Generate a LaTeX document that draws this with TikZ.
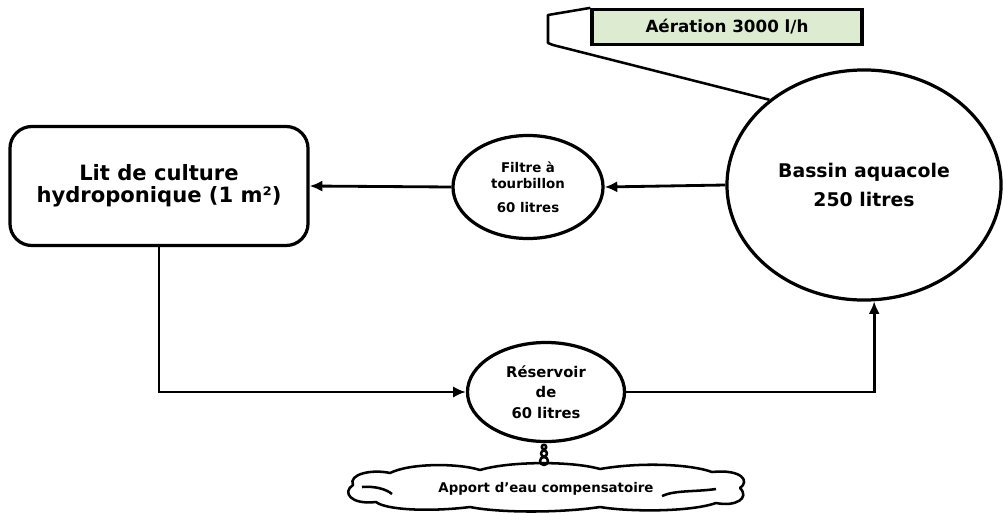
\documentclass[tikz,border=0pt]{standalone}
\usepackage{fontspec}
\setmainfont{DejaVu Sans}
\usetikzlibrary{arrows.meta,shapes.geometric}
\definecolor{aerfill}{RGB}{221,235,208}
\begin{document}
\begin{tikzpicture}[
        x=0.025cm, y=-0.025cm,
        bord/.style={draw=black, line width=2.3pt, align=center, inner sep=0pt},
        bulle/.style={bord, ellipse},
        flow/.style={-{Latex[length=9pt,width=8pt]}, line width=2pt},
        nuage/.style={draw=black, line width=1.8pt, line join=round},
    ]
    \useasboundingbox (0,0) rectangle (1004,512);

    % Bassin aquacole
    \node[bulle, minimum width=6.85cm, minimum height=5.75cm,
          font=\bfseries\fontsize{13.4}{16}\selectfont] (bassin) at (864,185)
          {Bassin aquacole\\[5pt]250 litres};

    % Filtre et reservoir
    \node[bulle, minimum width=3.75cm, minimum height=2.575cm,
          font=\bfseries\fontsize{9.5}{11.4}\selectfont] (filtre) at (528,187)
          {Filtre à\\tourbillon\\[5.6pt]60 litres};
    \node[bulle, minimum width=3.925cm, minimum height=2.475cm,
          font=\bfseries\fontsize{10.5}{14.5}\selectfont] (res) at (546,392)
          {Réservoir\\de\\60 litres};

    % Lit de culture
    \node[bord, rectangle, rounded corners=0.55cm, minimum width=7.45cm, minimum height=2.975cm,
          font=\bfseries\fontsize{15}{15.8}\selectfont] (lit) at (159,186)
          {Lit de culture\\hydroponique (1 m²)};

    % Aeration
    \node[bord, rectangle, fill=aerfill, minimum width=6.75cm, minimum height=0.875cm,
          font=\bfseries\fontsize{11.9}{13}\selectfont] (aer) at (727,27)
          {Aération 3000 l/h};
    \draw[line width=1.8pt, line join=round] (aer.north west) -- (548,15) -- (548,43) -- (553,45) -- (bassin.138);

    % Apport d'eau (nuage)
    \draw[nuage] (353,485) .. controls (348,474) and (372,469) .. (390,473)
        .. controls (410,463) and (458,463) .. (480,470)
        .. controls (510,461) and (572,461) .. (600,469)
        .. controls (640,462) and (690,464) .. (712,472)
        .. controls (742,469) and (750,481) .. (740,488)
        .. controls (750,498) and (736,507) .. (716,503)
        .. controls (690,512) and (630,512) .. (600,507)
        .. controls (560,513) and (500,513) .. (470,507)
        .. controls (430,512) and (386,510) .. (376,502)
        .. controls (350,505) and (342,492) .. (353,485) -- cycle;
    \draw[nuage] (362,487) .. controls (375,486) and (386,489) .. (392,494);
    \draw[nuage] (662,496) .. controls (675,490) and (695,492) .. (716,489);
    \node[font=\bfseries\fontsize{9.5}{10}\selectfont] (apport) at (546,489) {Apport d’eau compensatoire};
    \draw[nuage] (544,447) circle (2.3) (544,453.5) circle (3) (544,461) circle (4);

    % Circuit de l'eau
    \draw[flow] (bassin.west) -- (filtre.east);
    \draw[flow] (filtre.west) -- (lit.east);
    \draw[flow] (lit.south) |- (res.west);
    \draw[flow] (res.east) -| (bassin.-85);

\end{tikzpicture}
\end{document}
